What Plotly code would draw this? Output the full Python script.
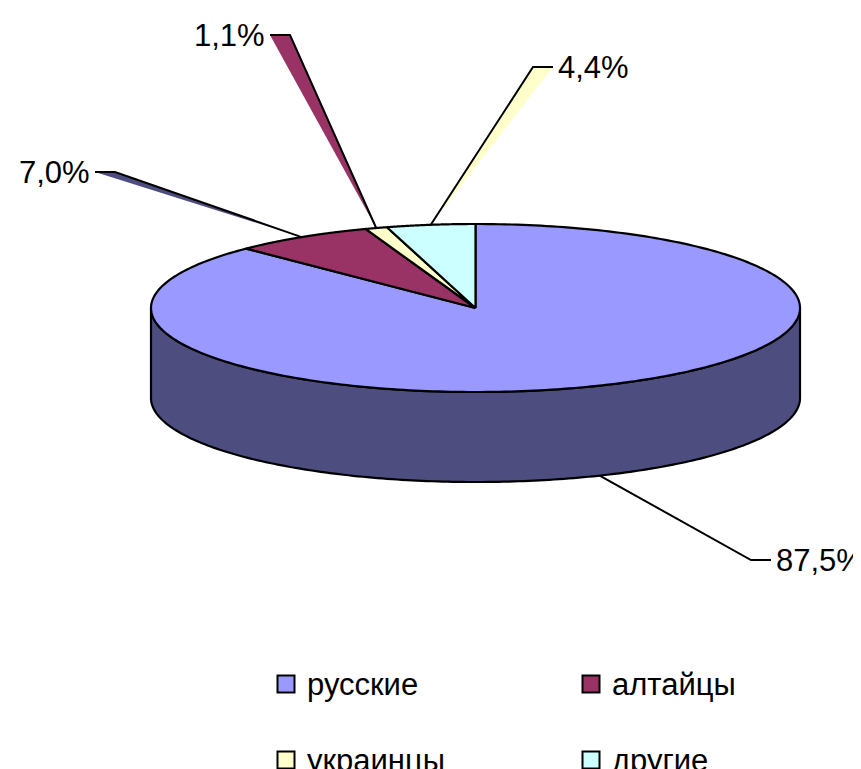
import numpy as np
import plotly.graph_objects as go

categories = ["русские", "алтайцы", "украинцы", "другие"]
shares = [87.5, 7.0, 1.1, 4.4]
value_labels = ["87,5%", "7,0%", "1,1%", "4,4%"]
colors = ["#9999FF", "#993366", "#FFFFCC", "#CCFFFF"]
side_color = "#4D4D80"

W, H = 861, 769
CX, CY, RX, RY, DEPTH = 467.5, 300, 324.5, 84, 90
FONT = dict(family="Liberation Sans, Arial, sans-serif", size=31, color="#000000")
LW = 2.2


def pt(deg, drop=0.0):
    a = np.radians(deg)
    return CX + RX * np.sin(a), CY - RY * np.cos(a) + drop


fig = go.Figure()


def poly(xs, ys, fill=None, line=True, lw=LW):
    fig.add_trace(go.Scatter(
        x=list(xs), y=list(ys), mode="lines" if line else "none",
        fill="toself" if fill else None, fillcolor=fill,
        line=dict(color="#000000", width=lw, simplify=False),
        hoverinfo="skip", showlegend=False))


edges = np.concatenate([[0], np.cumsum(shares)]) / sum(shares) * 360

# side wall (visible only for angles between 90 and 270 degrees)
for i in range(len(shares)):
    a0, a1 = max(edges[i], 90), min(edges[i + 1], 270)
    if a1 > a0:
        t = np.linspace(a0, a1, 200)
        x1, y1 = pt(t, DEPTH)
        x0, y0 = pt(t[::-1])
        poly(np.r_[x1, x0, x1[0]], np.r_[y1, y0, y1[0]], fill=side_color)

# top face
for i in range(len(shares)):
    t = np.linspace(edges[i], edges[i + 1], 300)
    x, y = pt(t)
    poly(np.r_[CX, x, CX], np.r_[CY, y, CY], fill=colors[i])

# leader lines: slice midpoint -> elbow -> end beside the label
leaders = [
    (0, True, (743, 552), (763, 552), None, "left", (767, 552)),
    (1, False, (107, 164), (87, 164), side_color, "right", (83, 164)),
    (2, False, (282, 27), (262, 27), colors[1], "right", (258, 27)),
    (3, False, (525, 59), (545, 59), colors[2], "left", (549, 59)),
]
mids = (edges[:-1] + edges[1:]) / 2
for i, side, elbow, end, wedge, anchor, tpos in leaders:
    sx, sy = pt(mids[i], DEPTH if side else 0)
    if wedge:
        poly([sx, end[0], elbow[0], sx], [sy, end[1], elbow[1], sy], fill=wedge, line=False)
    poly([sx, elbow[0], end[0]], [sy, elbow[1], end[1]], lw=2)
    fig.add_annotation(x=tpos[0], y=tpos[1], text=value_labels[i], showarrow=False,
                       xanchor=anchor, yanchor="middle", font=FONT, borderpad=0)

# legend
legend_x = [278, 583, 278, 583]
legend_y = [676, 676, 752, 752]
for i, c in enumerate(categories):
    fig.add_trace(go.Scatter(
        x=[legend_x[i]], y=[legend_y[i]], mode="markers",
        marker=dict(symbol="square", size=17, color=colors[i],
                    line=dict(color="#000000", width=2)),
        hoverinfo="skip", showlegend=False))
    fig.add_annotation(x=legend_x[i] + 20, y=legend_y[i], text=c, showarrow=False,
                       xanchor="left", yanchor="middle", font=FONT, borderpad=0)

fig.update_layout(
    width=W, height=H, margin=dict(l=0, r=0, t=0, b=0),
    paper_bgcolor="#FFFFFF", plot_bgcolor="#FFFFFF", showlegend=False,
    xaxis=dict(range=[0, W], visible=False, fixedrange=True),
    yaxis=dict(range=[H, 0], visible=False, fixedrange=True),
)
fig.write_html("out.html", config={"displayModeBar": False})
